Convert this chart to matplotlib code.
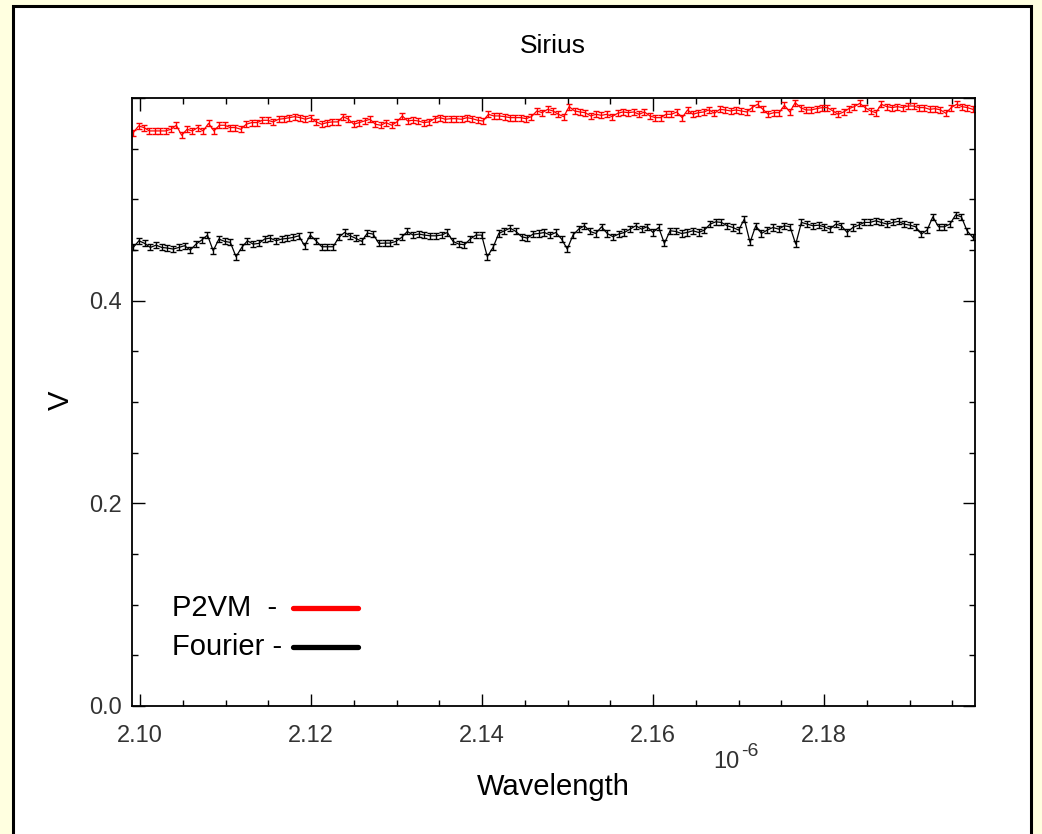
import numpy as np
import matplotlib.pyplot as plt
from matplotlib.patches import Rectangle
from matplotlib.ticker import MultipleLocator, FormatStrFormatter, FuncFormatter

# visibility, wavelength in units of 1e-6 m
p2vm_v = [
    0.5658, 0.5724, 0.5708, 0.5675, 0.5675, 0.5675, 0.5675, 0.5691, 0.5731, 0.5632,
    0.5691, 0.5675, 0.5708, 0.5675, 0.5750, 0.5675, 0.5731, 0.5731, 0.5708, 0.5708,
    0.5691, 0.5741, 0.5757, 0.5757, 0.5780, 0.5780, 0.5764, 0.5790, 0.5796, 0.5806,
    0.5816, 0.5806, 0.5790, 0.5806, 0.5764, 0.5741, 0.5757, 0.5764, 0.5764, 0.5816,
    0.5790, 0.5741, 0.5757, 0.5773, 0.5790, 0.5741, 0.5731, 0.5757, 0.5731, 0.5764,
    0.5823, 0.5773,
    0.5780, 0.5773, 0.5757, 0.5764, 0.5796, 0.5806, 0.5790, 0.5796, 0.5796, 0.5790,
    0.5806, 0.5796, 0.5780, 0.5773, 0.5839, 0.5823, 0.5823, 0.5816, 0.5806, 0.5806,
    0.5806, 0.5796, 0.5816, 0.5872, 0.5855, 0.5888, 0.5872, 0.5839, 0.5816, 0.5915,
    0.5872, 0.5862, 0.5855, 0.5823, 0.5839, 0.5829, 0.5839, 0.5816, 0.5849, 0.5862,
    0.5855, 0.5862, 0.5839, 0.5862, 0.5823, 0.5806, 0.5806, 0.5839, 0.5839, 0.5862,
    0.5806, 0.5882,
    0.5839, 0.5855, 0.5862, 0.5882, 0.5849, 0.5888, 0.5882, 0.5872, 0.5882, 0.5872,
    0.5862, 0.5905, 0.5938, 0.5888, 0.5839, 0.5855, 0.5855, 0.5928, 0.5862, 0.5954,
    0.5905, 0.5882, 0.5882, 0.5895, 0.5905, 0.5905, 0.5872, 0.5839, 0.5862, 0.5895,
    0.5915, 0.5947, 0.5905, 0.5872, 0.5855, 0.5938, 0.5915, 0.5905, 0.5915, 0.5905,
    0.5921, 0.5921, 0.5905, 0.5905, 0.5888, 0.5895, 0.5882, 0.5849, 0.5905, 0.5938,
    0.5915, 0.5905, 0.5888,
]
fourier_v = [
    0.4525, 0.4591, 0.4565, 0.4525, 0.4548, 0.4525, 0.4519, 0.4509, 0.4525, 0.4542,
    0.4499, 0.4558, 0.4598, 0.4647, 0.4493, 0.4608, 0.4585, 0.4575, 0.4434, 0.4525,
    0.4591, 0.4558, 0.4565, 0.4608, 0.4617, 0.4591, 0.4608, 0.4614, 0.4624, 0.4640,
    0.4542, 0.4647, 0.4591, 0.4532, 0.4532, 0.4532, 0.4624, 0.4673, 0.4640, 0.4614,
    0.4585, 0.4667, 0.4657, 0.4565, 0.4568, 0.4568, 0.4585, 0.4624, 0.4683, 0.4647,
    0.4657, 0.4647, 0.4640, 0.4640, 0.4647, 0.4673, 0.4585, 0.4558, 0.4552, 0.4608,
    0.4647, 0.4647, 0.4434, 0.4525, 0.4663, 0.4690, 0.4716, 0.4683, 0.4631, 0.4617,
    0.4657, 0.4663, 0.4673, 0.4647, 0.4673, 0.4608, 0.4509, 0.4647, 0.4706, 0.4739,
    0.4683, 0.4663, 0.4729, 0.4663, 0.4631, 0.4657, 0.4673, 0.4706, 0.4739, 0.4706,
    0.4729, 0.4673, 0.4723, 0.4565, 0.4690, 0.4683, 0.4663,
    0.4673, 0.4690, 0.4673, 0.4696, 0.4755, 0.4778, 0.4772, 0.4739, 0.4722, 0.4696,
    0.4805, 0.4575, 0.4739, 0.4663, 0.4696, 0.4722, 0.4706, 0.4739, 0.4729, 0.4558,
    0.4772, 0.4755, 0.4739, 0.4745, 0.4729, 0.4706, 0.4755, 0.4739, 0.4673, 0.4722,
    0.4745, 0.4772, 0.4772, 0.4788, 0.4772, 0.4755, 0.4772, 0.4782, 0.4755, 0.4745,
    0.4729, 0.4657, 0.4696, 0.4827, 0.4729, 0.4729, 0.4755, 0.4847, 0.4827, 0.4690,
    0.4624,
]
p2vm_err = 0.003
fourier_err = 0.003
wl_start, wl_end = 2.0992, 2.1974

p2vm_wl = np.linspace(wl_start, wl_end, len(p2vm_v))
fourier_wl = np.linspace(wl_start, wl_end, len(fourier_v))

fig = plt.figure(figsize=(10.42, 8.34), dpi=100, facecolor='#ffffe0')
plt.rcParams['font.family'] = ['Liberation Sans', 'DejaVu Sans']

# white panel with black frame, kept behind the axes
fig.patches.append(Rectangle((0.0125, -0.05), 0.977, 1.043, transform=fig.transFigure,
                             facecolor='white', edgecolor='black', linewidth=2.2, zorder=-5))

ax = fig.add_axes([0.1267, 0.1535, 0.809, 0.729])
ax.set_facecolor('white')

ax.errorbar(p2vm_wl, p2vm_v, yerr=p2vm_err, color='red', linewidth=0.9,
            elinewidth=1.0, capsize=2.2, capthick=1.0)
ax.errorbar(fourier_wl, fourier_v, yerr=fourier_err, color='black', linewidth=0.9,
            elinewidth=1.0, capsize=2.2, capthick=1.0)

ax.set_xlim(2.09906, 2.19766)
ax.set_ylim(0, 0.6)
ax.xaxis.set_major_locator(MultipleLocator(0.02))
ax.xaxis.set_minor_locator(MultipleLocator(0.005))
ax.yaxis.set_major_locator(MultipleLocator(0.2))
ax.yaxis.set_minor_locator(MultipleLocator(0.05))
ax.xaxis.set_major_formatter(FormatStrFormatter('%.2f'))
ax.yaxis.set_major_formatter(FuncFormatter(lambda v, pos: '' if v > 0.5 else f'{v:.1f}'))
ax.tick_params(which='both', direction='in', top=True, right=True, width=1.0,
               labelsize=17, colors='black')
ax.tick_params(which='major', length=9, pad=7)
ax.tick_params(axis='x', which='major', pad=14)
ax.tick_params(which='minor', length=4)
for sp in ax.spines.values():
    sp.set_linewidth(1.3)
for lbl in ax.get_xticklabels() + ax.get_yticklabels():
    lbl.set_color('#333333')

# IDL style legend
ax.text(0.0475, 0.161, 'P2VM  -', transform=ax.transAxes, fontsize=21, va='center')
ax.text(0.0475, 0.097, 'Fourier -', transform=ax.transAxes, fontsize=21, va='center')
ax.plot([0.191, 0.268], [0.161, 0.161], color='red', linewidth=3.8,
        solid_capstyle='round', transform=ax.transAxes)
ax.plot([0.191, 0.268], [0.097, 0.097], color='black', linewidth=3.8,
        solid_capstyle='round', transform=ax.transAxes)

fig.text(0.531, 0.945, 'Sirius', fontsize=19, ha='center', va='center')
fig.text(0.531, 0.056, 'Wavelength', fontsize=21, ha='center', va='center')
fig.text(0.058, 0.52, 'V', fontsize=21, ha='center', va='center', rotation=90)
fig.text(0.710, 0.086, '10', fontsize=17, ha='right', va='center', color='#333333')
fig.text(0.711, 0.099, '-6', fontsize=14, ha='left', va='center', color='#333333')

fig.savefig('out.png', dpi=100, facecolor=fig.get_facecolor())
